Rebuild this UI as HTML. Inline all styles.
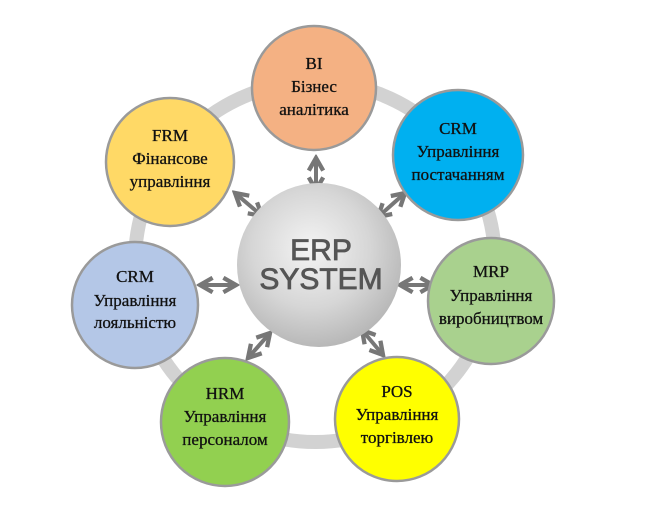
<!DOCTYPE html>
<html><head><meta charset="utf-8"><style>
html,body{margin:0;padding:0;background:#fff}
svg{display:block}
text{font-family:"Liberation Serif",serif;font-size:17px;fill:#111;text-anchor:middle;stroke:#111;stroke-width:0.3}
</style></head><body>
<svg width="657" height="518" viewBox="0 0 657 518">
<defs>
<radialGradient id="sph" cx="0.45" cy="0.4" r="0.6">
<stop offset="0" stop-color="#f4f4f4"/><stop offset="0.6" stop-color="#d6d6d6"/><stop offset="1" stop-color="#b8b8b8"/>
</radialGradient>
<marker id="ah" viewBox="0 0 10 10" refX="8" refY="5" markerWidth="4.5" markerHeight="4.5" orient="auto-start-reverse">
<path d="M1,1 L8,5 L1,9" fill="none" stroke="#777" stroke-width="2.4"/>
</marker>
</defs>
<circle cx="315" cy="262" r="180" fill="none" stroke="#d2d2d2" stroke-width="14"/>
<g stroke="#777" stroke-width="4" marker-start="url(#ah)" marker-end="url(#ah)">
<line x1="316" y1="158" x2="316" y2="190"/>
<line x1="235" y1="193" x2="262" y2="216"/>
<line x1="405" y1="193" x2="378" y2="217"/>
<line x1="200" y1="285" x2="236" y2="285"/>
<line x1="400" y1="285" x2="433" y2="285"/>
<line x1="248" y1="358" x2="270" y2="333"/>
<line x1="362" y1="330" x2="383" y2="355"/>
</g>
<circle cx="319" cy="265" r="82" fill="url(#sph)"/>
<text x="321" y="260" style="font-family:'Liberation Sans',sans-serif;font-size:30px;fill:#555;stroke:#555;stroke-width:0.8">ERP</text>
<text x="321" y="289" style="font-family:'Liberation Sans',sans-serif;font-size:30px;fill:#555;stroke:#555;stroke-width:0.8">SYSTEM</text>
<g stroke="#9a9a9a" stroke-width="2.5">
<circle cx="314" cy="88" r="62" fill="#f4b183"/>
<circle cx="170" cy="162" r="64" fill="#ffd966"/>
<circle cx="458" cy="155" r="65" fill="#00b0f0"/>
<circle cx="135" cy="305" r="63" fill="#b4c7e7"/>
<circle cx="491" cy="301" r="63" fill="#a9d18e"/>
<circle cx="225" cy="422" r="64" fill="#92d050"/>
<circle cx="397" cy="419" r="62" fill="#ffff00"/>
</g>
<text x="314" y="69">BI</text><text x="314" y="92">Бізнес</text><text x="314" y="115">аналітика</text>
<text x="170" y="141">FRM</text><text x="170" y="164">Фінансове</text><text x="170" y="187">управління</text>
<text x="458" y="134">CRM</text><text x="458" y="157">Управління</text><text x="458" y="180">постачанням</text>
<text x="135" y="282">CRM</text><text x="135" y="306">Управління</text><text x="135" y="328">лояльністю</text>
<text x="491" y="277">MRP</text><text x="491" y="301">Управління</text><text x="491" y="324">виробництвом</text>
<text x="225" y="399">HRM</text><text x="225" y="422">Управління</text><text x="225" y="445">персоналом</text>
<text x="397" y="397">POS</text><text x="397" y="420">Управління</text><text x="397" y="443">торгівлею</text>
</svg>
</body></html>
